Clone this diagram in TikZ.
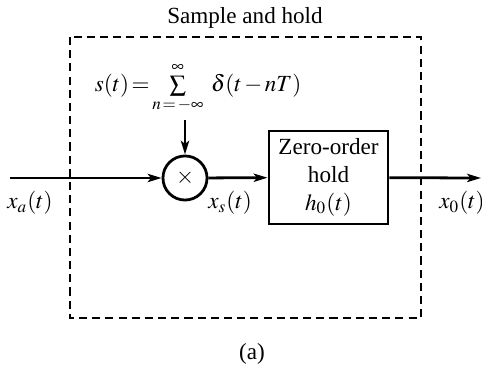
\documentclass[tikz,border=0pt]{standalone}
\usepackage{amsmath}
\usepackage{mathptmx}
\usepackage{fontspec}
\setmainfont{Liberation Serif}
\usepackage{tikz}
\usetikzlibrary{arrows.meta,positioning,calc}

\begin{document}
\begin{tikzpicture}[
    x=0.0152cm, y=-0.0152cm,
    block/.style={draw, line width=1.2pt, minimum width=1.81cm, minimum height=1.41cm, align=center, inner sep=1pt},
    mixer/.style={draw, circle, line width=1.2pt, minimum size=0.67cm, inner sep=0pt},
    arrow/.style={-{Stealth[length=2.1mm, width=1.25mm, inset=0.5mm]}, line width=1.2pt},
    lbl/.style={inner sep=1pt}
]
    \useasboundingbox (0,0) rectangle (482,371);

    % Dashed sample-and-hold boundary
    \draw[line width=0.45pt, dash pattern=on 3.5pt off 2.2pt] (70,37) rectangle (421,318);
    \node[lbl] (title) at (245,18) {Sample and hold};

    \node[mixer] (mult) at (185,178) {$\times$};
    \node[block] (zoh) at (328.5,177.5) {Zero-order\\hold\\$h_0(t)$};

    \coordinate (in) at (10,178);
    \coordinate (out) at (481,178);
    \coordinate (src) at (185,120);

    % Impulse train
    \node[lbl] (train) at (198,88) {$s(t)\!=\!\sum\limits_{n\,=\,-\infty}^{\infty}\;\delta(t\,{-}\,nT)$};

    % Signal path
    \draw[arrow] (in) -- (mult);
    \draw[arrow] (src) -- (mult);
    \draw[arrow] (mult) -- (zoh);
    \draw[arrow] (zoh) -- (out);

    \node[lbl] (xa) at (30,203) {$x_a(t)$};
    \node[lbl] (xs) at (230,203) {$x_s(t)$};
    \node[lbl] (xo) at (462,203) {$x_0(t)$};

    \node[lbl] (cap) at (252,354) {(a)};
\end{tikzpicture}
\end{document}
